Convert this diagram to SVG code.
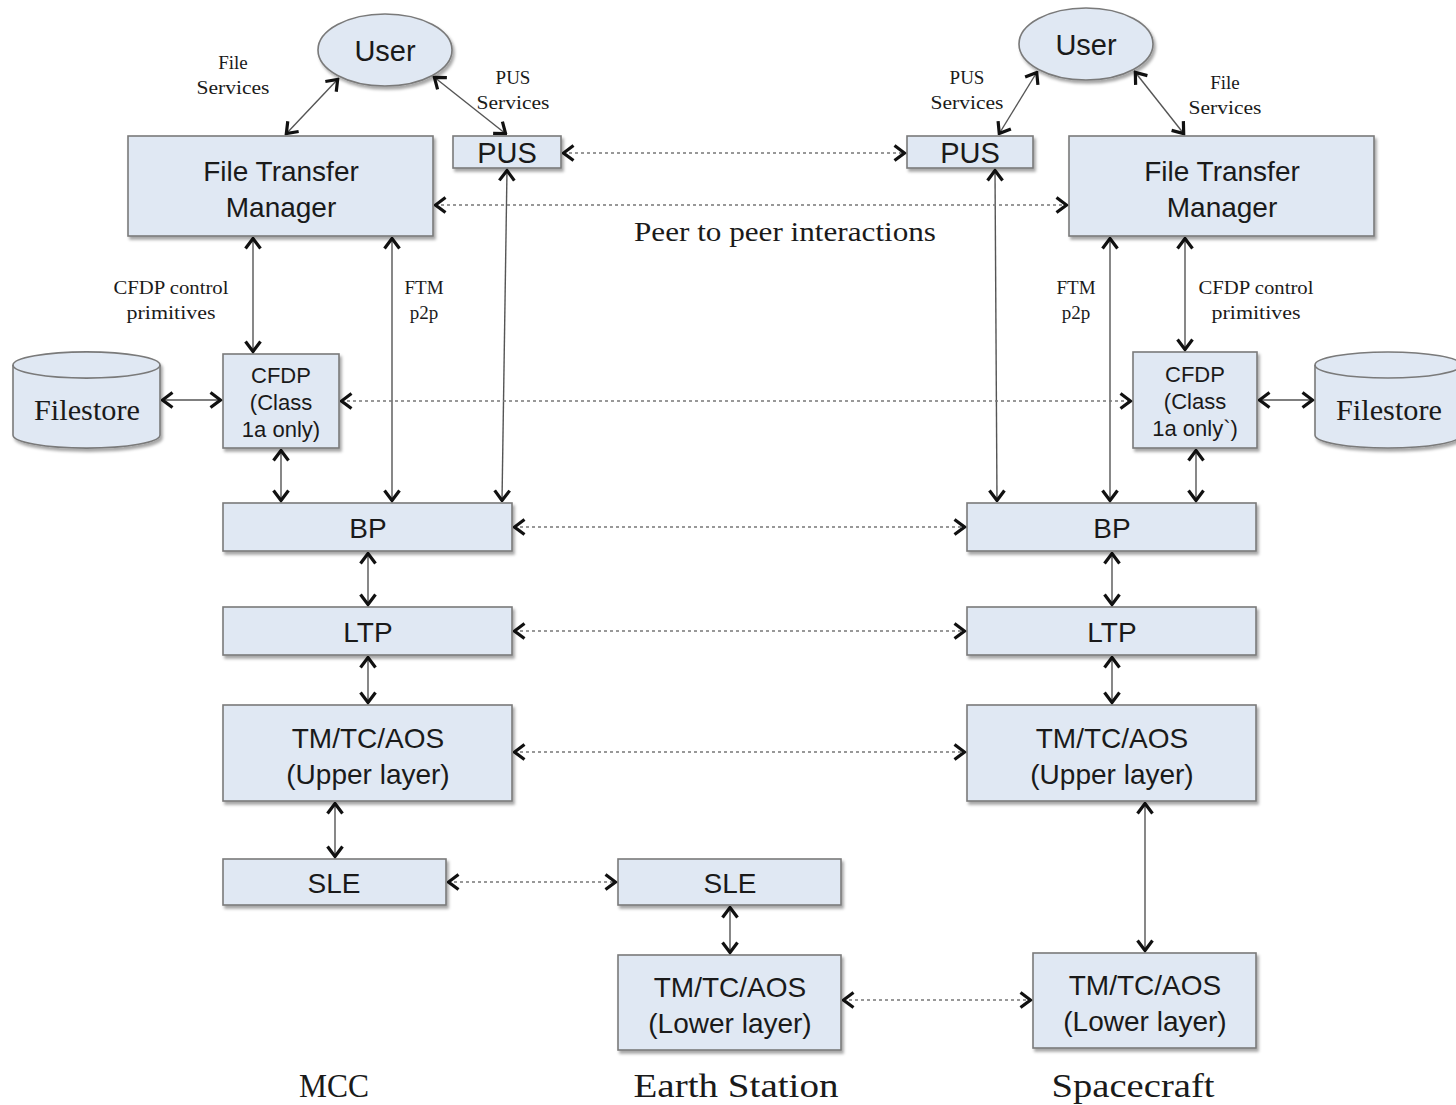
<svg xmlns="http://www.w3.org/2000/svg" width="1456" height="1105" viewBox="0 0 1456 1105">
  <style>
    .box { fill: #e0e8f3; stroke: #7a7a7a; stroke-width: 1.6; filter: url(#shadow); }
    .t { font-family: "Liberation Sans", Arial, sans-serif; fill: #1a1a1a; text-anchor: middle; }
    .s { font-family: "Liberation Serif", "Times New Roman", serif; fill: #1a1a1a; text-anchor: middle; }
    .link { stroke: #555; stroke-width: 1.4; fill: none; marker-start: url(#head); marker-end: url(#head); }
    .peer { stroke: #777; stroke-width: 1.4; stroke-dasharray: 3 3; fill: none; marker-start: url(#head); marker-end: url(#head); }
  </style>
  <defs>
    <filter id="shadow" x="-10%" y="-10%" width="125%" height="130%">
      <feDropShadow dx="2" dy="3" stdDeviation="1.5" flood-color="#000" flood-opacity="0.35"/>
    </filter>
    <!-- open chevron arrowhead shared by every connector end -->
    <marker id="head" viewBox="0 0 14 20" markerWidth="14" markerHeight="20" refX="12.5" refY="10" orient="auto-start-reverse" markerUnits="userSpaceOnUse">
      <path d="M2,2.5 L12,10 L2,17.5" fill="none" stroke="#111" stroke-width="3.2" stroke-linejoin="miter"/>
    </marker>
  </defs>
  <rect width="1456" height="1105" fill="#fff"/>

  <!-- connectors -->
  <g id="connectors">
    <!-- MCC side -->
    <line class="link" x1="338" y1="79" x2="286" y2="134"/>
    <line class="link" x1="434" y1="77" x2="506" y2="134"/>
    <line class="link" x1="253" y1="238" x2="253" y2="352"/>
    <line class="link" x1="392" y1="238" x2="392" y2="501"/>
    <line class="link" x1="507" y1="170" x2="502" y2="501"/>
    <line class="link" x1="162" y1="400" x2="221" y2="400"/>
    <line class="link" x1="281" y1="450" x2="281" y2="501"/>
    <line class="link" x1="368" y1="553" x2="368" y2="605"/>
    <line class="link" x1="368" y1="657" x2="368" y2="703"/>
    <line class="link" x1="335" y1="803" x2="335" y2="857"/>
    <!-- Earth station -->
    <line class="link" x1="730" y1="907" x2="730" y2="953"/>
    <!-- Spacecraft side -->
    <line class="link" x1="1037" y1="72" x2="999" y2="134"/>
    <line class="link" x1="1135" y1="72" x2="1184" y2="134"/>
    <line class="link" x1="1185" y1="238" x2="1185" y2="350"/>
    <line class="link" x1="1110" y1="238" x2="1110" y2="501"/>
    <line class="link" x1="995" y1="170" x2="997" y2="501"/>
    <line class="link" x1="1259" y1="400" x2="1313" y2="400"/>
    <line class="link" x1="1196" y1="450" x2="1196" y2="501"/>
    <line class="link" x1="1112" y1="553" x2="1112" y2="605"/>
    <line class="link" x1="1112" y1="657" x2="1112" y2="703"/>
    <line class="link" x1="1145" y1="803" x2="1145" y2="951"/>
    <!-- peer to peer -->
    <line class="peer" x1="563" y1="153" x2="905" y2="153"/>
    <line class="peer" x1="435" y1="205" x2="1067" y2="205"/>
    <line class="peer" x1="341" y1="401" x2="1131" y2="401"/>
    <line class="peer" x1="514" y1="527" x2="965" y2="527"/>
    <line class="peer" x1="514" y1="631" x2="965" y2="631"/>
    <line class="peer" x1="514" y1="752" x2="965" y2="752"/>
    <line class="peer" x1="448" y1="882" x2="616" y2="882"/>
    <line class="peer" x1="843" y1="1000" x2="1031" y2="1000"/>
  </g>

  <!-- connector labels -->
  <g id="labels">
    <text class="s" font-size="19"><tspan x="233" y="69">File</tspan><tspan x="233" y="94" textLength="73" lengthAdjust="spacingAndGlyphs">Services</tspan></text>
    <text class="s" font-size="19"><tspan x="513" y="84">PUS</tspan><tspan x="513" y="109" textLength="73" lengthAdjust="spacingAndGlyphs">Services</tspan></text>
    <text class="s" font-size="19"><tspan x="967" y="84">PUS</tspan><tspan x="967" y="109" textLength="73" lengthAdjust="spacingAndGlyphs">Services</tspan></text>
    <text class="s" font-size="19"><tspan x="1225" y="89">File</tspan><tspan x="1225" y="114" textLength="73" lengthAdjust="spacingAndGlyphs">Services</tspan></text>
    <text class="s" font-size="28" x="785" y="241" textLength="302" lengthAdjust="spacingAndGlyphs">Peer to peer interactions</text>
    <text class="s" font-size="19"><tspan x="171" y="294" textLength="115" lengthAdjust="spacingAndGlyphs">CFDP control</tspan><tspan x="171" y="319" textLength="89" lengthAdjust="spacingAndGlyphs">primitives</tspan></text>
    <text class="s" font-size="19"><tspan x="424" y="294">FTM</tspan><tspan x="424" y="319">p2p</tspan></text>
    <text class="s" font-size="19"><tspan x="1076" y="294">FTM</tspan><tspan x="1076" y="319">p2p</tspan></text>
    <text class="s" font-size="19"><tspan x="1256" y="294" textLength="115" lengthAdjust="spacingAndGlyphs">CFDP control</tspan><tspan x="1256" y="319" textLength="89" lengthAdjust="spacingAndGlyphs">primitives</tspan></text>
    <text class="s" font-size="34" x="334" y="1097" textLength="70" lengthAdjust="spacingAndGlyphs">MCC</text>
    <text class="s" font-size="34" x="736" y="1097" textLength="205" lengthAdjust="spacingAndGlyphs">Earth Station</text>
    <text class="s" font-size="34" x="1133" y="1097" textLength="163" lengthAdjust="spacingAndGlyphs">Spacecraft</text>
  </g>

  <!-- MCC -->
  <g id="mcc-user">
    <ellipse class="box" cx="385" cy="50" rx="67" ry="36"/>
    <text class="t" font-size="29" x="385" y="61">User</text>
  </g>
  <g id="mcc-ftm">
    <rect class="box" x="128" y="136" width="305" height="100"/>
    <text class="t" font-size="28"><tspan x="281" y="181">File Transfer</tspan><tspan x="281" y="217">Manager</tspan></text>
  </g>
  <g id="mcc-pus">
    <rect class="box" x="453" y="136" width="108" height="32"/>
    <text class="t" font-size="29" x="507" y="163">PUS</text>
  </g>
  <g id="mcc-filestore">
    <path class="box" d="M13,365 A73,13 0 0 1 160,365 L160,435 A73,13 0 0 1 13,435 Z"/>
    <path d="M13,365 A73,13 0 0 0 160,365" fill="none" stroke="#7a7a7a" stroke-width="1.6"/>
    <text class="s" font-size="29" x="87" y="420" textLength="106" lengthAdjust="spacingAndGlyphs">Filestore</text>
  </g>
  <g id="mcc-cfdp">
    <rect class="box" x="223" y="354" width="116" height="94"/>
    <text class="t" font-size="22"><tspan x="281" y="383">CFDP</tspan><tspan x="281" y="410">(Class</tspan><tspan x="281" y="437">1a only)</tspan></text>
  </g>
  <g id="mcc-bp">
    <rect class="box" x="223" y="503" width="289" height="48"/>
    <text class="t" font-size="28" x="368" y="538">BP</text>
  </g>
  <g id="mcc-ltp">
    <rect class="box" x="223" y="607" width="289" height="48"/>
    <text class="t" font-size="28" x="368" y="642">LTP</text>
  </g>
  <g id="mcc-tmtc">
    <rect class="box" x="223" y="705" width="289" height="96"/>
    <text class="t" font-size="28"><tspan x="368" y="748">TM/TC/AOS</tspan><tspan x="368" y="784">(Upper layer)</tspan></text>
  </g>
  <g id="mcc-sle">
    <rect class="box" x="223" y="859" width="223" height="46"/>
    <text class="t" font-size="28" x="334" y="893">SLE</text>
  </g>

  <!-- Earth Station -->
  <g id="es-sle">
    <rect class="box" x="618" y="859" width="223" height="46"/>
    <text class="t" font-size="28" x="730" y="893">SLE</text>
  </g>
  <g id="es-tmtc">
    <rect class="box" x="618" y="955" width="223" height="95"/>
    <text class="t" font-size="28"><tspan x="730" y="997">TM/TC/AOS</tspan><tspan x="730" y="1033">(Lower layer)</tspan></text>
  </g>

  <!-- Spacecraft -->
  <g id="sc-user">
    <ellipse class="box" cx="1086" cy="44" rx="67" ry="36"/>
    <text class="t" font-size="29" x="1086" y="55">User</text>
  </g>
  <g id="sc-pus">
    <rect class="box" x="907" y="136" width="126" height="32"/>
    <text class="t" font-size="29" x="970" y="163">PUS</text>
  </g>
  <g id="sc-ftm">
    <rect class="box" x="1069" y="136" width="305" height="100"/>
    <text class="t" font-size="28"><tspan x="1222" y="181">File Transfer</tspan><tspan x="1222" y="217">Manager</tspan></text>
  </g>
  <g id="sc-cfdp">
    <rect class="box" x="1133" y="352" width="124" height="96"/>
    <text class="t" font-size="22"><tspan x="1195" y="382">CFDP</tspan><tspan x="1195" y="409">(Class</tspan><tspan x="1195" y="436">1a only`)</tspan></text>
  </g>
  <g id="sc-filestore">
    <path class="box" d="M1315,365 A73,13 0 0 1 1461,365 L1461,435 A73,13 0 0 1 1315,435 Z"/>
    <path d="M1315,365 A73,13 0 0 0 1461,365" fill="none" stroke="#7a7a7a" stroke-width="1.6"/>
    <text class="s" font-size="29" x="1389" y="420" textLength="106" lengthAdjust="spacingAndGlyphs">Filestore</text>
  </g>
  <g id="sc-bp">
    <rect class="box" x="967" y="503" width="289" height="48"/>
    <text class="t" font-size="28" x="1112" y="538">BP</text>
  </g>
  <g id="sc-ltp">
    <rect class="box" x="967" y="607" width="289" height="48"/>
    <text class="t" font-size="28" x="1112" y="642">LTP</text>
  </g>
  <g id="sc-tmtc-upper">
    <rect class="box" x="967" y="705" width="289" height="96"/>
    <text class="t" font-size="28"><tspan x="1112" y="748">TM/TC/AOS</tspan><tspan x="1112" y="784">(Upper layer)</tspan></text>
  </g>
  <g id="sc-tmtc-lower">
    <rect class="box" x="1033" y="953" width="223" height="95"/>
    <text class="t" font-size="28"><tspan x="1145" y="995">TM/TC/AOS</tspan><tspan x="1145" y="1031">(Lower layer)</tspan></text>
  </g>
</svg>
